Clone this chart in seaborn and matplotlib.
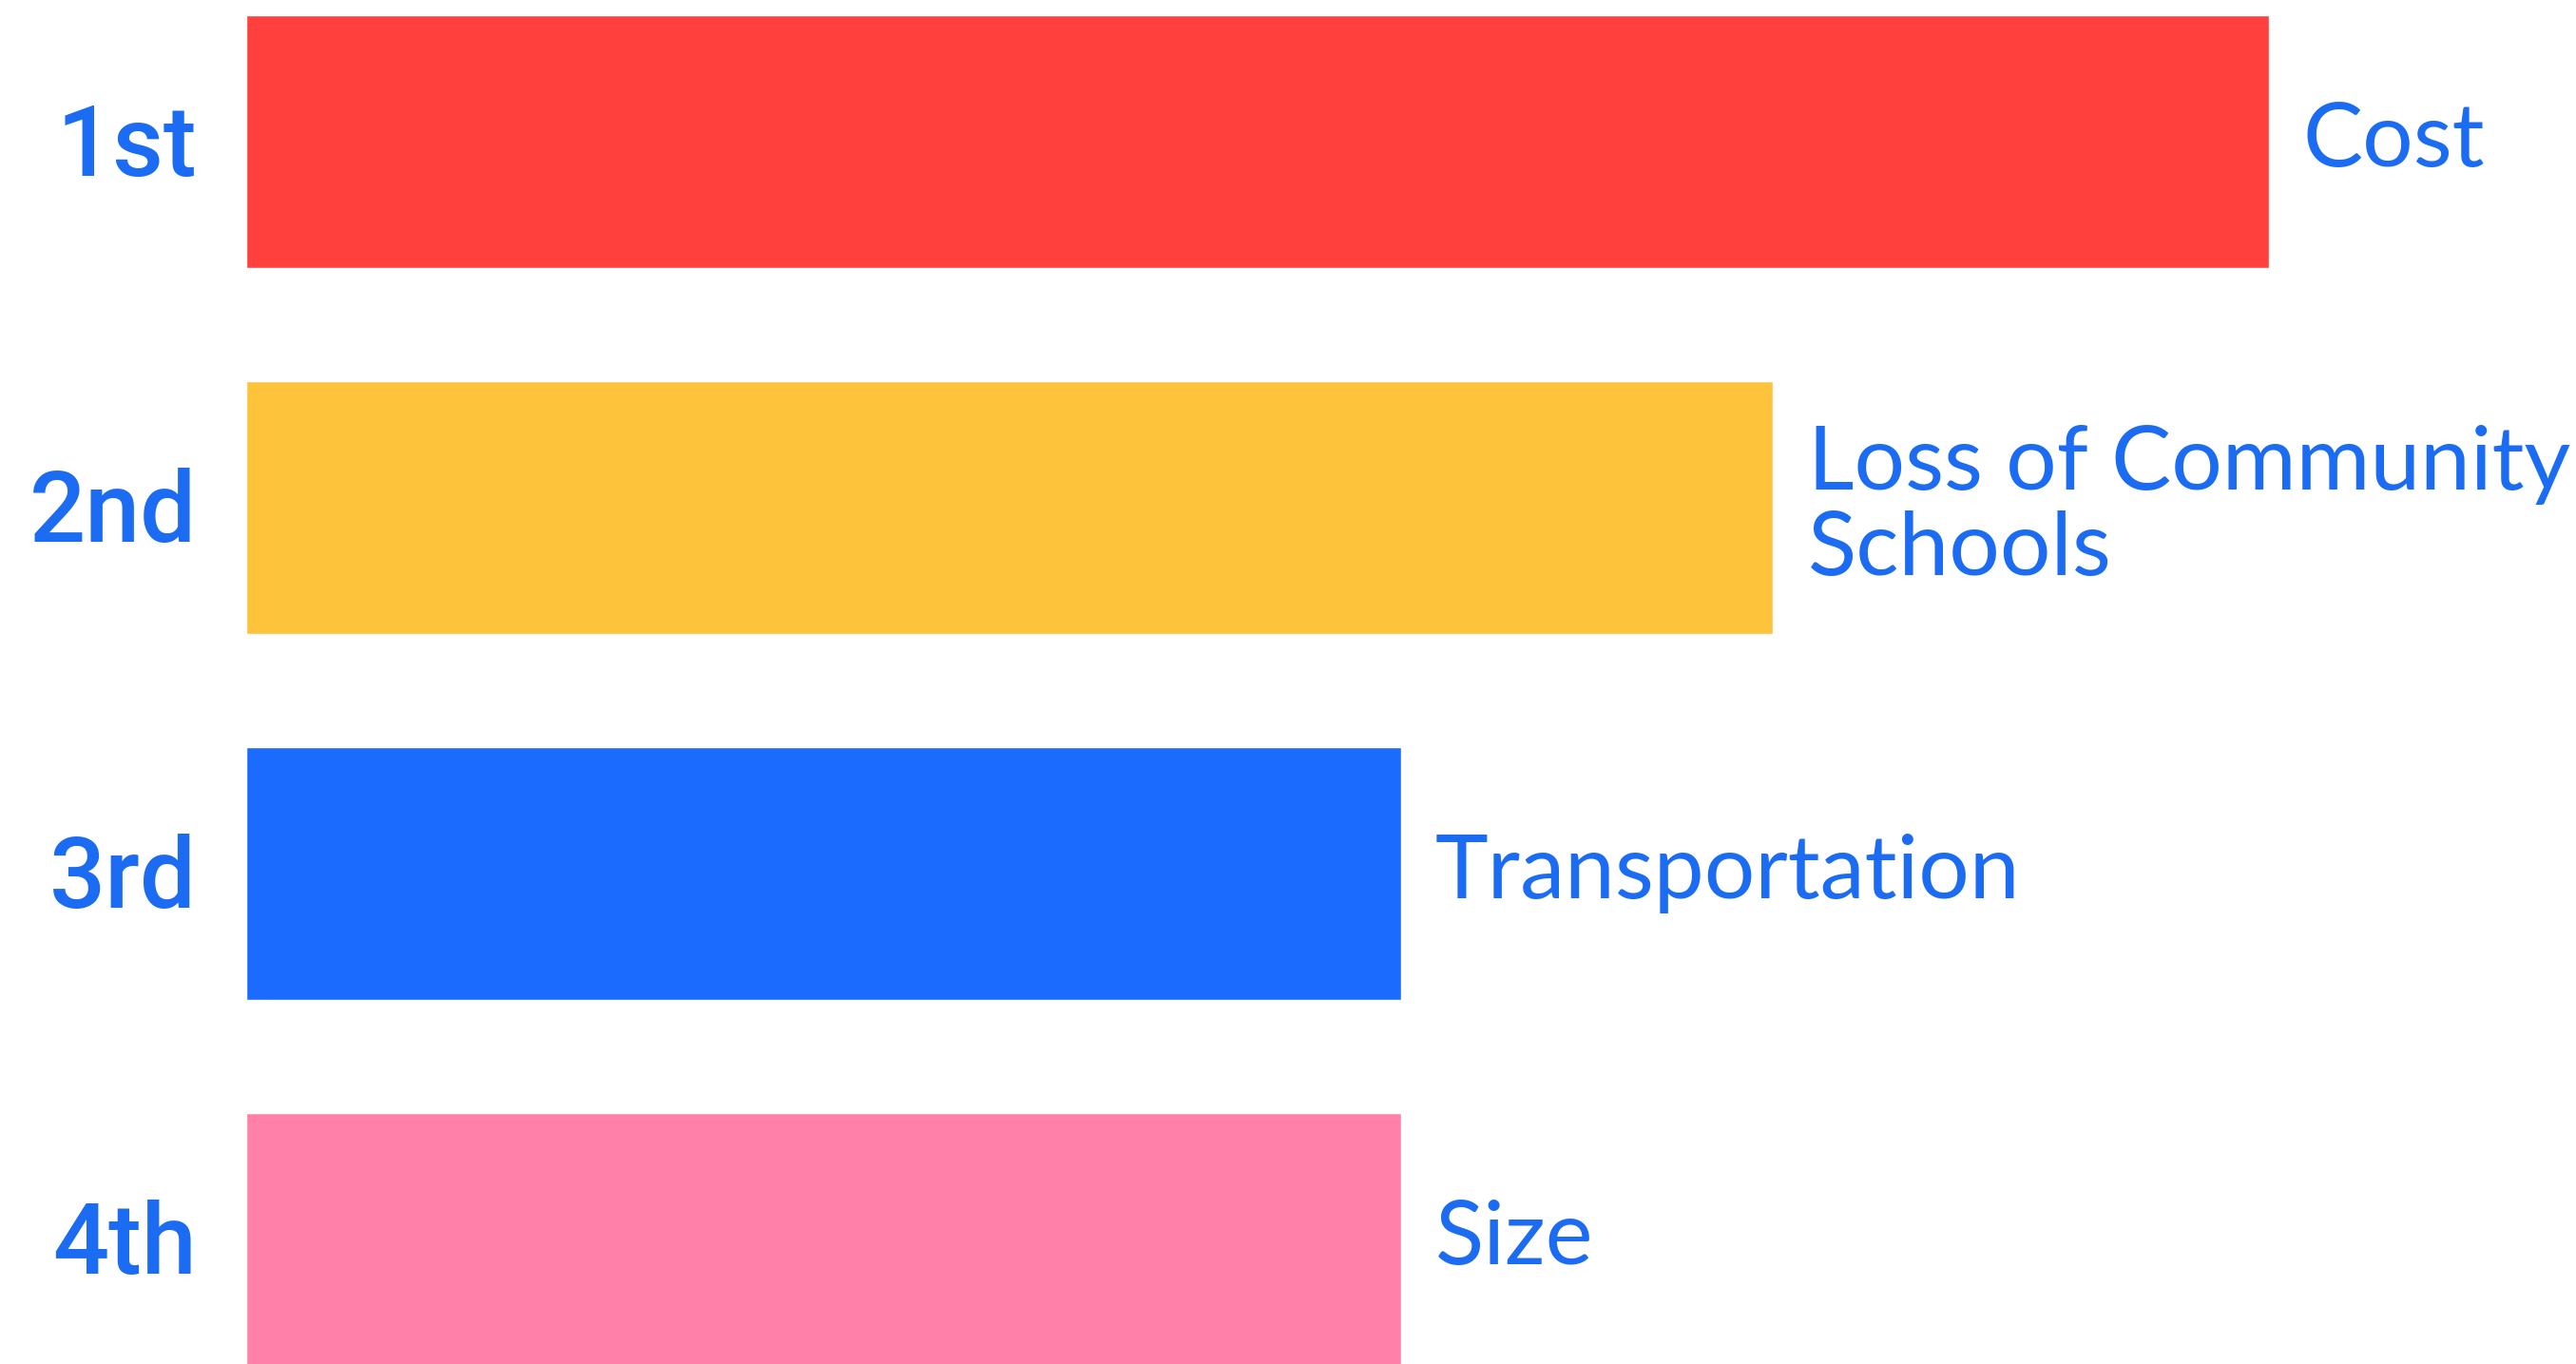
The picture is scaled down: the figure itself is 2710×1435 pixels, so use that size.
import pandas as pd
import numpy as np
import matplotlib.pyplot as plt
import seaborn as sns

# data (relative bar lengths, top bar = 100)
ranks = ["1st", "2nd", "3rd", "4th"]
concerns = ["Cost", "Loss of Community\nSchools", "Transportation", "Size"]
scores = [100, 75.5, 57.1, 57.1]
bar_colors = ["#FF403D", "#FDC33B", "#1C6BFF", "#FF80A9"]

text_blue = "#1B6CF2"

df = pd.DataFrame({"rank": ranks, "score": scores, "concern": concerns})

sns.set_theme(style="white")
plt.rcParams['font.family'] = ['Lato', 'DejaVu Sans']

fig = plt.figure(figsize=(27.1, 14.35), dpi=100)
ax = fig.add_axes([0, 0, 1, 1])

sns.barplot(data=df, y="rank", x="score", hue="rank", palette=bar_colors,
            orient="h", width=0.69, legend=False, saturation=1, ax=ax)

# axis limits so the bars sit where they do in the original
ax.set_xlim(-12.18, 115.2)
ax.set_ylim(3.34, -0.387)

# rank labels on the left
for i, r in enumerate(ranks):
    ax.text(-2.45, i + 0.02, r, ha="right", va="center", fontsize=75,
            color=text_blue, family=["Roboto", "DejaVu Sans"], fontweight="medium")

# concern labels right of each bar
for i, (v, c) in enumerate(zip(scores, concerns)):
    ax.text(v + 1.7, i + 0.0, c, ha="left", va="center", fontsize=68,
            color=text_blue, linespacing=1.08)

ax.set_xlabel("")
ax.set_ylabel("")
ax.set_xticks([])
ax.set_yticks([])
sns.despine(left=True, bottom=True)

fig.savefig("out.png", dpi=100)
